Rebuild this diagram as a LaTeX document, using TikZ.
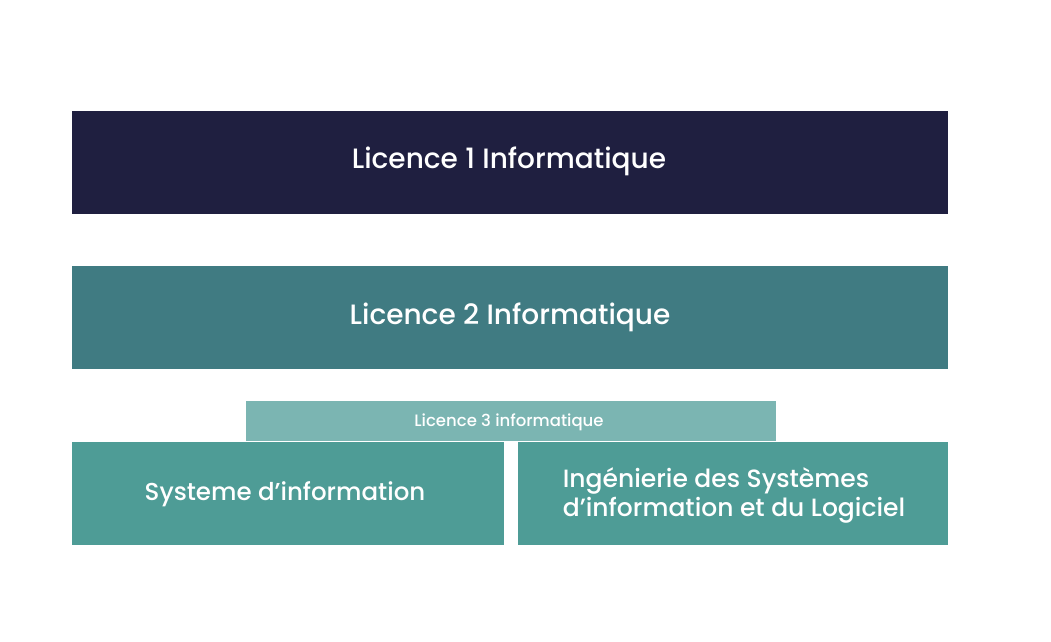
\documentclass[tikz,border=0pt]{standalone}
\usepackage{fontspec}
\setmainfont{Poppins}[BoldFont={Poppins Medium}]
\definecolor{navy}{HTML}{1F1F40}
\definecolor{tealdark}{HTML}{407B82}
\definecolor{teallight}{HTML}{7BB5B2}
\definecolor{tealmid}{HTML}{4E9C96}
\begin{document}
\begin{tikzpicture}[x=1pt,y=-1pt,
  block/.style={fill=#1,draw=none,inner sep=0pt,text=white},
]
\useasboundingbox (0,0) rectangle (1051,641);
\fill[white] (0,0) rectangle (1051,641);
% first and second year
\fill[navy] (72,111) rectangle (948,214);
\node[block=navy,anchor=base,font=\fontsize{28}{34}\selectfont\bfseries] (l1) at (509,168) {Licence 1 Informatique};
\fill[tealdark] (72,266) rectangle (948,369);
\node[block=tealdark,anchor=base,font=\fontsize{28}{34}\selectfont\bfseries] (l2) at (510,324) {Licence 2 Informatique};
% third year and its two tracks
\fill[teallight] (246,401) rectangle (776,441);
\node[block=teallight,anchor=base,font=\fontsize{16.5}{20}\selectfont\bfseries] (l3) at (509,426) {Licence 3 informatique};
\fill[tealmid] (72,442) rectangle (504,545);
\node[block=tealmid,anchor=base,font=\fontsize{24.5}{29}\selectfont\bfseries] (si) at (285,500) {Systeme d’information};
\fill[tealmid] (518,442) rectangle (948,545);
\node[block=tealmid,font=\fontsize{25}{29}\selectfont\bfseries,align=left] (isil) at (734,495) {Ingénierie des Systèmes\\d’information et du Logiciel};
\end{tikzpicture}
\end{document}
